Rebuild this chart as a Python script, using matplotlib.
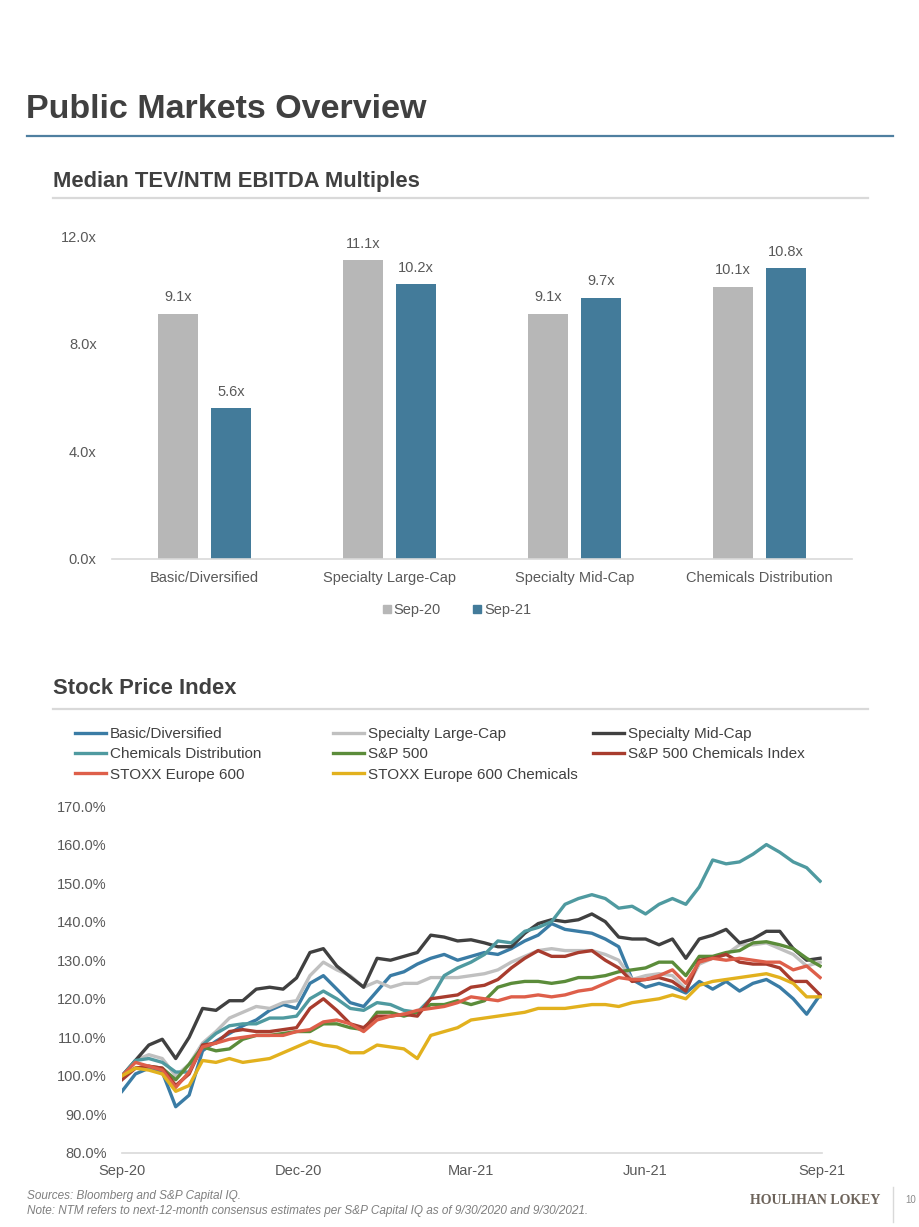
import matplotlib
matplotlib.use("Agg")
import matplotlib.pyplot as plt
from matplotlib.lines import Line2D
import numpy as np
import pandas as pd

# ---------------- DATA ----------------
bar_categories = ["Basic/Diversified", "Specialty Large-Cap", "Specialty Mid-Cap", "Chemicals Distribution"]
sep20_values = [9.1, 11.1, 9.1, 10.1]
sep21_values = [5.6, 10.2, 9.7, 10.8]
bar_series_names = ["Sep-20", "Sep-21"]
bar_yticks = [0, 4, 8, 12]

series_names = ["Basic/Diversified", "Specialty Large-Cap", "Specialty Mid-Cap",
                "Chemicals Distribution", "S&P 500", "S&P 500 Chemicals Index",
                "STOXX Europe 600", "STOXX Europe 600 Chemicals"]

dates = pd.date_range("2020-09-30", periods=53, freq="7D")

basic_div = [96, 100.5, 102, 101, 92, 95, 106.5, 109, 111, 113, 114.5, 117, 118.5, 117.5,
             124, 126, 122.5, 119, 118, 122, 126, 127, 129, 130.5, 131.5, 130, 131, 132,
             131.5, 133, 135, 136.5, 139.5, 138, 137.5, 137, 135.5, 133.5, 125, 123, 124,
             123, 121.5, 124.5, 122.5, 124.5, 122, 124, 125, 123, 120, 116, 121]
spec_large = [100, 104, 105.5, 104.5, 100, 103, 108.5, 111.5, 115, 116.5, 118, 117.5, 119,
              119.5, 126, 129.5, 127.5, 126, 123, 124.5, 123, 124, 124, 125.5, 125.5, 125.5,
              126, 126.5, 127.5, 129.5, 131, 132.5, 133, 132.5, 132.5, 132.5, 131.5, 130, 125,
              126, 126.5, 126, 122.5, 129, 130.5, 131.5, 134, 134, 134.5, 133, 131.5, 128.5, 129.5]
spec_mid = [100, 104, 108, 109.5, 104.5, 110, 117.5, 117, 119.5, 119.5, 122.5, 123, 122.5,
            125.4, 132, 133, 128.5, 125.7, 123, 130.5, 130, 131, 132, 136.5, 136, 135, 135.3,
            134.5, 133.5, 133.5, 137, 139.5, 140.5, 140, 140.5, 142, 140, 136, 135.5, 135.5,
            134, 135.5, 130.5, 135.5, 136.5, 138, 134.5, 135.5, 137.5, 137.5, 133, 130, 130.5]
chem_dist = [100, 104, 104.5, 103.5, 101, 101, 108, 111, 113, 113.5, 113.5, 115, 115, 115.5,
             120, 122, 120, 117.5, 117, 119, 118.5, 117, 116.5, 120, 126, 128, 129.5, 131.5,
             135, 134.5, 137.5, 138.5, 140, 144.5, 146, 147, 146, 143.5, 144, 142, 144.5, 146,
             144.5, 149, 156, 155, 155.5, 157.5, 160, 158, 155.5, 154, 150.5]
sp500 = [100, 102, 102.5, 102, 99, 103, 107.5, 106.5, 107, 109.5, 110.5, 110.5, 111, 111.5,
         111.5, 113.5, 113.5, 112.5, 112, 116.5, 116.5, 115.5, 116.5, 118.5, 118.5, 119.5,
         118.5, 119.5, 123, 124, 124.5, 124.5, 124, 124.5, 125.5, 125.5, 126, 127, 127.5, 128,
         129.5, 129.5, 126, 131, 131, 132, 132.5, 134.5, 134.8, 134, 133, 130.5, 128.5]
sp500_chem = [99, 102, 102.5, 102, 97.5, 100.5, 108, 108.5, 111.5, 112, 111.5, 111.5, 112,
              112.5, 117.5, 120, 117, 113.5, 112.5, 115.5, 115.5, 116, 115.5, 120, 120.5, 121,
              123, 123.5, 125, 128, 130.5, 132.5, 131, 131, 132, 132.5, 130, 128, 124.5, 125,
              125.5, 124.5, 122, 130, 130.5, 131.5, 129.5, 129, 129, 128, 124.5, 124.5, 121]
stoxx600 = [100, 103.5, 102.5, 101.5, 97, 101, 107.5, 108.5, 109.5, 110, 110.5, 110.5, 110.5,
            111.5, 112, 114, 114.5, 113.5, 111.5, 114.5, 115.5, 116, 117, 117.5, 118, 119,
            120.5, 120, 119.5, 120.5, 120.5, 121, 120.5, 121, 122, 122.5, 124, 125.5, 125, 125,
            126, 127.5, 124, 129.5, 130.5, 130, 130.5, 130, 129.5, 129.5, 127.5, 128.5, 125.5]
stoxx600_chem = [100, 102, 101.5, 100.5, 96, 97.5, 104, 103.5, 104.5, 103.5, 104, 104.5, 106,
                 107.5, 109, 108, 107.5, 106, 106, 108, 107.5, 107, 104.5, 110.5, 111.5, 112.5,
                 114.5, 115, 115.5, 116, 116.5, 117.5, 117.5, 117.5, 118, 118.5, 118.5, 118,
                 119, 119.5, 120, 121, 120, 123.5, 124.5, 125, 125.5, 126, 126.5, 125.5, 124,
                 120.5, 120.5]

line_yticks = [80, 90, 100, 110, 120, 130, 140, 150, 160, 170]
line_xticks = ["2020-09-30", "2020-12-31", "2021-03-31", "2021-06-30", "2021-09-30"]
line_xticklabels = ["Sep-20", "Dec-20", "Mar-21", "Jun-21", "Sep-21"]

# ---------------- STYLE ----------------
plt.rcParams["font.family"] = ["Liberation Sans", "DejaVu Sans"]
TXT = "#595959"
DARK = "#404040"
LIGHT = "#d9d9d9"
GRAY_BAR = "#b7b7b7"
BLUE_BAR = "#437b9a"
line_colors = ["#3a7ca5", "#c0c0c0", "#404040", "#4f9aa0",
               "#5b8c3a", "#a83c2e", "#de5f4a", "#e2b11e"]

W, H = 920, 1227
fig = plt.figure(figsize=(W / 100, H / 100), dpi=100)
fig.patch.set_facecolor("white")

def fx(px):
    return px / W

def fy(py):
    return 1 - py / H

# header
fig.text(fx(26), fy(109), "Public Markets Overview", weight="bold",
         fontsize=24.5, color=DARK, va="center", ha="left")
fig.add_artist(Line2D([fx(27), fx(893)], [fy(136), fy(136)], color="#4f7fa0", lw=1.6))

fig.text(fx(53), fy(181), "Median TEV/NTM EBITDA Multiples", weight="bold",
         fontsize=15.8, color=DARK, va="center", ha="left")
fig.add_artist(Line2D([fx(53), fx(868)], [fy(198), fy(198)], color=LIGHT, lw=1.6))

fig.text(fx(53), fy(689), "Stock Price Index", weight="bold",
         fontsize=15.8, color=DARK, va="center", ha="left")
fig.add_artist(Line2D([fx(53), fx(868)], [fy(709), fy(709)], color=LIGHT, lw=1.6))

# ---------------- BAR CHART ----------------
axb = fig.add_axes([fx(112), fy(559), fx(852) - fx(112), fy(236) - fy(559)])
x = np.arange(len(bar_categories))
bw = 0.22
off = 0.143
b1 = axb.bar(x - off, sep20_values, bw, color=GRAY_BAR, label=bar_series_names[0])
b2 = axb.bar(x + off, sep21_values, bw, color=BLUE_BAR, label=bar_series_names[1])
for bars, vals in ((b1, sep20_values), (b2, sep21_values)):
    for r, v in zip(bars, vals):
        axb.annotate(f"{v:.1f}x", (r.get_x() + r.get_width() / 2, v), xytext=(0, 7),
                     textcoords="offset points", ha="center", va="bottom",
                     fontsize=10.5, color=TXT)
axb.set_xlim(-0.5, 3.5)
axb.set_ylim(0, 12)
axb.set_yticks(bar_yticks)
axb.set_yticklabels([f"{v:.1f}x" for v in bar_yticks])
axb.set_xticks(x)
axb.set_xticklabels(bar_categories)
axb.tick_params(axis="y", length=0, pad=11, labelsize=10.5, labelcolor=TXT)
axb.tick_params(axis="x", length=0, pad=9, labelsize=10.5, labelcolor=TXT)
for s in ("top", "right", "left"):
    axb.spines[s].set_visible(False)
axb.spines["bottom"].set_color(LIGHT)
axb.spines["bottom"].set_linewidth(1.2)

bar_handles = [Line2D([], [], marker="s", ls="none", markersize=6, color=GRAY_BAR),
               Line2D([], [], marker="s", ls="none", markersize=6, color=BLUE_BAR)]
fig.legend(bar_handles, bar_series_names, loc="center", bbox_to_anchor=(fx(457), fy(610)),
           ncol=2, frameon=False, fontsize=10.5, labelcolor=TXT, handlelength=0.6,
           handletextpad=0.15, columnspacing=2.2)

# ---------------- LINE CHART ----------------
axl = fig.add_axes([fx(122), fy(1153), fx(822) - fx(122), fy(806) - fy(1153)])
all_series = [basic_div, spec_large, spec_mid, chem_dist, sp500, sp500_chem, stoxx600, stoxx600_chem]
handles = []
for name, vals, c in zip(series_names, all_series, line_colors):
    h, = axl.plot(dates, vals, color=c, lw=2.4, label=name, solid_joinstyle="round")
    handles.append(h)
axl.set_ylim(80, 170)
axl.set_xlim(pd.Timestamp(line_xticks[0]), pd.Timestamp(line_xticks[-1]))
axl.set_yticks(line_yticks)
axl.set_yticklabels([f"{v:.1f}%" for v in line_yticks])
axl.set_xticks([pd.Timestamp(d) for d in line_xticks])
axl.set_xticklabels(line_xticklabels)
axl.tick_params(axis="y", length=0, pad=11, labelsize=10.5, labelcolor=TXT)
axl.tick_params(axis="x", length=0, pad=8, labelsize=10.5, labelcolor=TXT)
for s in ("top", "right", "left"):
    axl.spines[s].set_visible(False)
axl.spines["bottom"].set_color(LIGHT)
axl.spines["bottom"].set_linewidth(1.2)

col_x = [75, 333, 593]
for j in range(3):
    idx = [i for i in (j, j + 3, j + 6) if i < len(handles)]
    lg = fig.legend([handles[i] for i in idx], [series_names[i] for i in idx],
                    loc="upper left", bbox_to_anchor=(fx(col_x[j]), fy(727)),
                    frameon=False, borderpad=0, borderaxespad=0,
                    handlelength=2.0, handletextpad=0.3, labelspacing=0.42,
                    prop={"size": 11})
    for t in lg.get_texts():
        t.set_color(DARK)

# ---------------- FOOTER ----------------
fig.text(fx(27), fy(1196), "Sources: Bloomberg and S&P Capital IQ.", fontsize=8.5,
         style="italic", color="#7f7f7f", va="center")
fig.text(fx(27), fy(1211),
         "Note: NTM refers to next-12-month consensus estimates per S&P Capital IQ as of 9/30/2020 and 9/30/2021.",
         fontsize=8.5, style="italic", color="#7f7f7f", va="center")
fig.text(fx(880), fy(1200), "HOULIHAN LOKEY", family=["Liberation Serif", "DejaVu Serif"],
         fontsize=10, weight="bold", color="#6d635a", ha="right", va="center")
fig.add_artist(Line2D([fx(893), fx(893)], [fy(1187), fy(1222)], color=LIGHT, lw=1))
fig.text(fx(905), fy(1200), "10", fontsize=7, color="#8c8c8c", ha="left", va="center")

fig.savefig("out.png", dpi=100, facecolor="white")
